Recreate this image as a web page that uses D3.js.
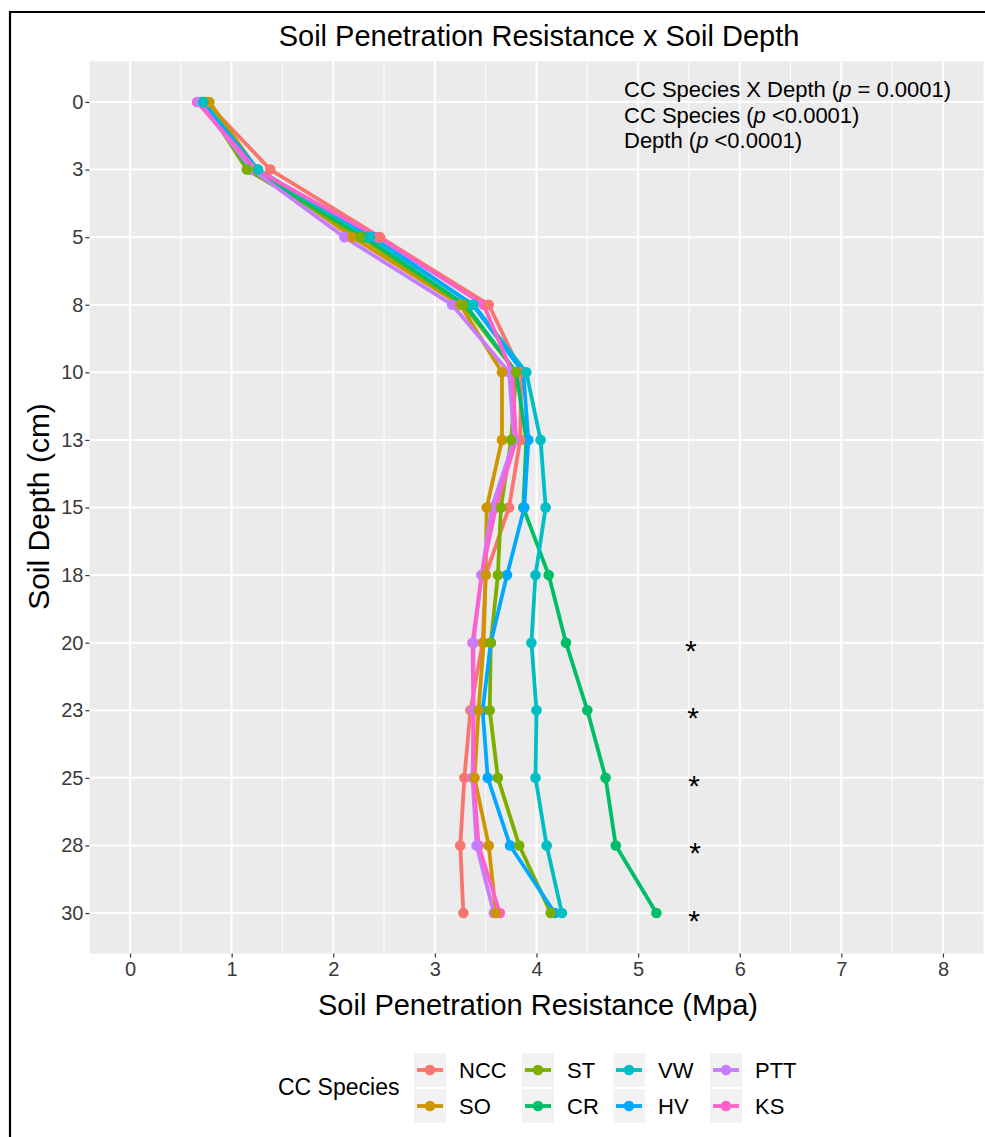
<!DOCTYPE html>
<html>
<head>
<meta charset="utf-8">
<script src="https://cdn.jsdelivr.net/npm/d3@7"></script>
<style>
  body { margin: 0; background: #fff; }
  text { font-family: "Liberation Sans", Arial, sans-serif; }
</style>
</head>
<body>
<div id="chart"></div>
<script>
// data (Mpa per depth)
const depths = ["0", "3", "5", "8", "10", "13", "15", "18", "20", "23", "25", "28", "30"];
const species = ["NCC", "SO", "ST", "CR", "VW", "HV", "PTT", "KS"];
const speciesColors = ["#F8766D", "#CD9600", "#7CAE00", "#00BE67", "#00BFC4", "#00A9FF", "#C77CFF", "#FF61CC"];

const nccValues = [0.75, 1.38, 2.46, 3.53, 3.85, 3.84, 3.73, 3.50, 3.47, 3.35, 3.29, 3.25, 3.28];
const soValues  = [0.78, 1.25, 2.19, 3.25, 3.66, 3.66, 3.51, 3.50, 3.48, 3.43, 3.39, 3.53, 3.60];
const stValues  = [0.72, 1.15, 2.27, 3.28, 3.80, 3.75, 3.65, 3.62, 3.55, 3.54, 3.62, 3.83, 4.14];
const crValues  = [0.72, 1.18, 2.31, 3.30, 3.80, 3.90, 3.87, 4.12, 4.29, 4.50, 4.68, 4.78, 5.18];
const vwValues  = [0.72, 1.26, 2.36, 3.38, 3.90, 4.04, 4.09, 3.99, 3.95, 4.00, 3.99, 4.10, 4.25];
const hvValues  = [0.70, 1.25, 2.40, 3.37, 3.87, 3.92, 3.88, 3.71, 3.55, 3.47, 3.52, 3.74, 4.18];
const pttValues = [0.68, 1.20, 2.11, 3.17, 3.73, 3.78, 3.56, 3.46, 3.38, 3.38, 3.37, 3.41, 3.58];
const ksValues  = [0.66, 1.24, 2.44, 3.48, 3.76, 3.80, 3.60, 3.46, 3.37, 3.38, 3.38, 3.43, 3.64];

const xTicks = [0, 1, 2, 3, 4, 5, 6, 7, 8];
const xMinorTicks = [0.5, 1.5, 2.5, 3.5, 4.5, 5.5, 6.5, 7.5];
const starDepths = ["20", "23", "25", "28", "30"];
const starX = [5.52, 5.54, 5.55, 5.56, 5.55];

const allValues = [nccValues, soValues, stValues, crValues, vwValues, hvValues, pttValues, ksValues];

const W = 985, H = 1137;
const panel = { left: 89.4, right: 983.6, top: 61.4, bottom: 953.6 };

const svg = d3.select("#chart")
  .append("svg")
  .attr("width", W)
  .attr("height", H);

svg.append("rect")
  .attr("width", W)
  .attr("height", H)
  .attr("fill", "#fff");

// frame around the figure
svg.append("path")
  .attr("d", `M10,${H} L10,12 L${W},12`)
  .attr("fill", "none")
  .attr("stroke", "#000")
  .attr("stroke-width", 2.2);

const x = d3.scaleLinear()
  .domain([-0.4, 8.4])
  .range([panel.left, panel.right]);

const y = d3.scalePoint()
  .domain(depths)
  .range([panel.top, panel.bottom])
  .padding(0.6);

svg.append("rect")
  .attr("x", panel.left)
  .attr("y", panel.top)
  .attr("width", panel.right - panel.left)
  .attr("height", panel.bottom - panel.top)
  .attr("fill", "#EBEBEB");

// grid
svg.append("g").selectAll("line")
  .data(xMinorTicks)
  .join("line")
  .attr("x1", d => x(d)).attr("x2", d => x(d))
  .attr("y1", panel.top).attr("y2", panel.bottom)
  .attr("stroke", "#fff")
  .attr("stroke-width", 1);

svg.append("g").selectAll("line")
  .data(xTicks)
  .join("line")
  .attr("x1", d => x(d)).attr("x2", d => x(d))
  .attr("y1", panel.top).attr("y2", panel.bottom)
  .attr("stroke", "#fff")
  .attr("stroke-width", 2);

svg.append("g").selectAll("line")
  .data(depths)
  .join("line")
  .attr("x1", panel.left).attr("x2", panel.right)
  .attr("y1", d => y(d)).attr("y2", d => y(d))
  .attr("stroke", "#fff")
  .attr("stroke-width", 2);

// axes
const xAxis = svg.append("g")
  .attr("transform", `translate(0, ${panel.bottom})`)
  .call(d3.axisBottom(x).tickValues(xTicks).tickSize(4).tickPadding(4).tickFormat(d3.format("d")));

const yAxis = svg.append("g")
  .attr("transform", `translate(${panel.left}, 0)`)
  .call(d3.axisLeft(y).tickSize(4).tickPadding(2));

[xAxis, yAxis].forEach(a => {
  a.select(".domain").remove();
  a.selectAll(".tick line").attr("stroke", "#333").attr("stroke-width", 1.2);
  a.selectAll(".tick text")
    .attr("fill", "#3a3a3a")
    .attr("font-size", "20px")
    .attr("font-family", "Liberation Sans, Arial, sans-serif");
});

// lines drawn per group, points in alphabetical row order like the source plot
const series = species.map((name, i) => ({
  name,
  color: speciesColors[i],
  values: depths.map((dep, j) => ({ depth: dep, v: allValues[i][j] }))
}));

const line = d3.line()
  .x(d => x(d.v))
  .y(d => y(d.depth));

svg.append("g").selectAll("path")
  .data(series)
  .join("path")
  .attr("d", d => line(d.values))
  .attr("fill", "none")
  .attr("stroke", d => d.color)
  .attr("stroke-width", 3.8)
  .attr("stroke-linejoin", "round");

const pointOrder = series.slice().sort((a, b) => d3.ascending(a.name, b.name));

svg.append("g").selectAll("g")
  .data(pointOrder)
  .join("g")
  .attr("fill", d => d.color)
  .selectAll("circle")
  .data(d => d.values)
  .join("circle")
  .attr("cx", d => x(d.v))
  .attr("cy", d => y(d.depth))
  .attr("r", 5.3);

// significance stars
svg.append("g").selectAll("text")
  .data(starDepths)
  .join("text")
  .attr("x", (d, i) => x(starX[i]))
  .attr("y", d => y(d) + 18)
  .attr("text-anchor", "middle")
  .attr("font-size", "30px")
  .attr("fill", "#000")
  .text("*");

// p-value notes
const notes = [
  ["CC Species X Depth (", "p", " = 0.0001)"],
  ["CC Species (", "p", " <0.0001)"],
  ["Depth (", "p", " <0.0001)"]
];

notes.forEach((parts, i) => {
  const t = svg.append("text")
    .attr("x", 624)
    .attr("y", 97 + i * 25.5)
    .attr("font-size", "22px")
    .attr("fill", "#000");
  t.append("tspan").text(parts[0]);
  t.append("tspan").attr("font-style", "italic").text(parts[1]);
  t.append("tspan").text(parts[2]);
});

// titles
svg.append("text")
  .attr("x", 539)
  .attr("y", 46)
  .attr("text-anchor", "middle")
  .attr("font-size", "29px")
  .text("Soil Penetration Resistance x Soil Depth");

svg.append("text")
  .attr("x", 538)
  .attr("y", 1015)
  .attr("text-anchor", "middle")
  .attr("font-size", "29px")
  .text("Soil Penetration Resistance (Mpa)");

svg.append("text")
  .attr("transform", `translate(49, ${(panel.top + panel.bottom) / 2 - 1}) rotate(-90)`)
  .attr("text-anchor", "middle")
  .attr("font-size", "30px")
  .text("Soil Depth (cm)");

// legend
const legend = svg.append("g");

legend.append("text")
  .attr("x", 278)
  .attr("y", 1095)
  .attr("font-size", "23px")
  .text("CC Species");

const keyLeft = [414, 522, 613, 710];
const rowMid = [1070, 1106];

species.forEach((name, i) => {
  const col = Math.floor(i / 2), row = i % 2;
  const key = legend.append("g")
    .attr("transform", `translate(${keyLeft[col]}, ${rowMid[row]})`);

  key.append("rect")
    .attr("x", 0).attr("y", -17)
    .attr("width", 32).attr("height", 34)
    .attr("fill", "#F2F2F2");

  key.append("line")
    .attr("x1", 3).attr("x2", 29)
    .attr("stroke", speciesColors[i])
    .attr("stroke-width", 3.8);

  key.append("circle")
    .attr("cx", 16)
    .attr("r", 5.3)
    .attr("fill", speciesColors[i]);

  key.append("text")
    .attr("x", 45)
    .attr("y", 8)
    .attr("font-size", "22px")
    .text(name);
});
</script>
</body>
</html>
